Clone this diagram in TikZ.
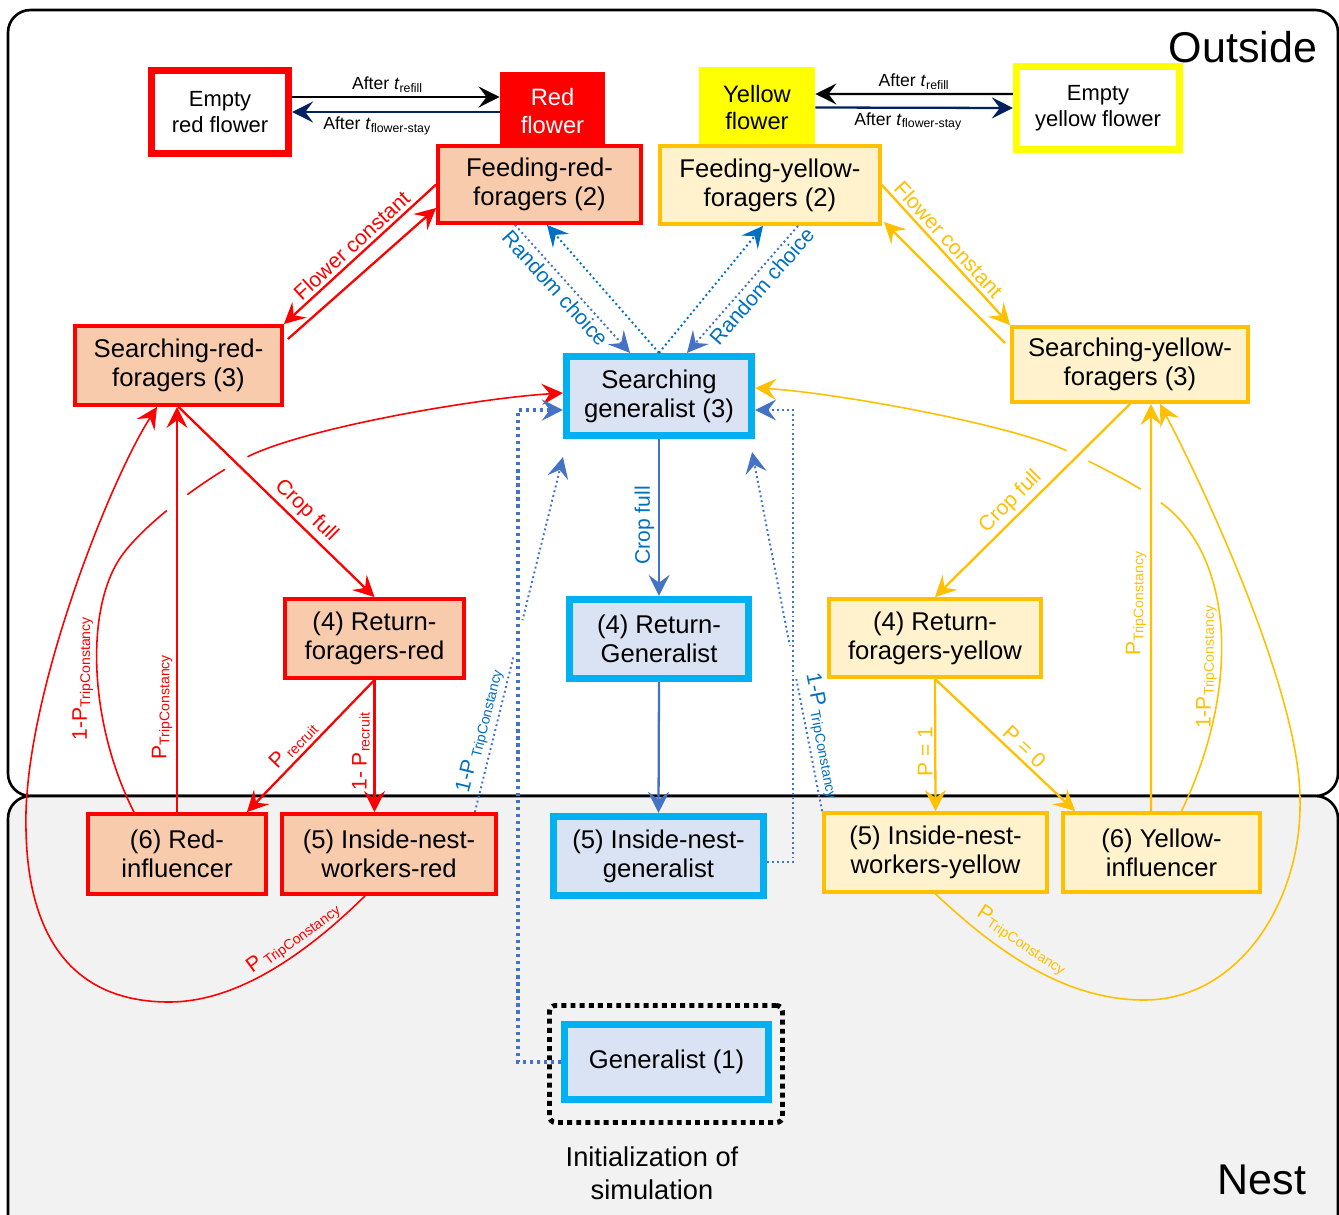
\documentclass[tikz,border=0pt]{standalone}
\usepackage{fontspec}
\setmainfont{Liberation Sans}
\usetikzlibrary{arrows.meta,calc,intersections}

\definecolor{peach}{HTML}{F8CBAD}
\definecolor{amber}{HTML}{FFC000}
\definecolor{cream}{HTML}{FFF2CC}
\definecolor{paleblue}{HTML}{DAE3F3}
\definecolor{skyline}{HTML}{00B0F0}
\definecolor{blueline}{HTML}{4472C4}
\definecolor{bluetext}{HTML}{0070C0}
\definecolor{navy}{HTML}{002060}
\definecolor{nestgrey}{HTML}{F2F2F2}
\definecolor{lemon}{HTML}{FFFF00}

\pgfdeclarelayer{back}
\pgfdeclarelayer{low}
\pgfdeclarelayer{gap}
\pgfsetlayers{back,low,gap,main}

\tikzset{%
    basebox/.style={rectangle, align=center, inner sep=0pt,
        font=\fontsize{14.6}{16.5}\selectfont},
    redbox/.style={basebox, draw=red, fill=peach, line width=2.2pt},
    yelbox/.style={basebox, draw=amber, fill=cream, line width=2.2pt},
    genbox/.style={basebox, draw=skyline, fill=paleblue, line width=3.8pt},
    emptybox/.style={basebox, fill=white, line width=3.8pt,
        font=\fontsize{12.5}{14.7}\selectfont},
    flowerbox/.style={basebox, font=\fontsize{13.5}{15.5}\selectfont},
    initbox/.style={rectangle, draw=black, line width=2.8pt,
        dash pattern=on 2.8pt off 2.4pt, rounded corners=0.12cm},
    region/.style={draw=black, line width=1.5pt, rounded corners=0.45cm},
    regionlbl/.style={font=\fontsize{24.5}{28}\selectfont},
    stealthtip/.style={-{Stealth[length=12pt, width=12pt, inset=4.5pt]}},
    blkarr/.style={stealthtip, black, line width=1.3pt},
    navyarr/.style={stealthtip, navy, line width=1.3pt},
    redarr/.style={stealthtip, red, line width=1.3pt},
    redthin/.style={stealthtip, red, line width=0.9pt},
    yelarr/.style={stealthtip, amber, line width=1.3pt},
    yelthin/.style={stealthtip, amber, line width=0.9pt},
    bluarr/.style={stealthtip, blueline, line width=1.3pt},
    bluedot/.style={stealthtip, blueline, line width=1.1pt,
        dash pattern=on 1.1pt off 1.7pt},
    bluedotthick/.style={stealthtip, blueline, line width=1.8pt,
        dash pattern=on 1.8pt off 2.2pt},
    lbl/.style={font=\fontsize{12}{14}\selectfont, sloped, inner sep=2pt},
    vlbl/.style={font=\fontsize{12}{14}\selectfont, rotate=90, inner sep=2pt},
    flowlbl/.style={font=\fontsize{10}{12}\selectfont, inner sep=2pt}
}

\begin{document}
\begin{tikzpicture}[x=0.02cm, y=-0.02cm]
	\useasboundingbox (0,0) rectangle (1339,1214);
	\begin{pgfonlayer}{back}
		\draw[region, fill=white] (8,10) rectangle (1338,796);
		\draw[region, fill=nestgrey] (8,796) rectangle (1338,1260);
	\end{pgfonlayer}
	\node[regionlbl] (outlbl) at (1243,47) {Outside};
	\node[regionlbl] (nestlbl) at (1262,1180) {Nest};

	\node[emptybox, draw=red, minimum width=2.75cm, minimum height=1.67cm] (emptyred) at (220,112) {Empty\\red flower};
	\node[flowerbox, fill=red, text=white, minimum width=2.1cm, minimum height=1.56cm] (redflower) at (552.5,111) {Red\\flower};
	\node[flowerbox, fill=lemon, minimum width=2.32cm, minimum height=1.62cm] (yellowflower) at (757,107.5) {Yellow\\flower};
	\node[emptybox, draw=lemon, minimum width=3.27cm, minimum height=1.67cm] (emptyyellow) at (1098,108) {Empty\\yellow flower};

	\node[redbox, minimum width=4.06cm, minimum height=1.54cm] (feedred) at (539.5,184.5) {Feeding-red-\\foragers (2)};
	\node[yelbox, minimum width=4.4cm, minimum height=1.56cm] (feedyellow) at (770,185) {Feeding-yellow-\\foragers (2)};
	\node[redbox, minimum width=4.14cm, minimum height=1.58cm] (searchred) at (178.5,365.5) {Searching-red-\\foragers (3)};
	\node[genbox, minimum width=3.71cm, minimum height=1.59cm] (searchgen) at (659,396) {Searching\\generalist (3)};
	\node[yelbox, minimum width=4.72cm, minimum height=1.5cm] (searchyellow) at (1130,364.5) {Searching-yellow-\\foragers (3)};
	\node[redbox, minimum width=3.58cm, minimum height=1.58cm] (returnred) at (374.5,638.5) {(4) Return-\\foragers-red};
	\node[genbox, minimum width=3.59cm, minimum height=1.59cm] (returngen) at (659,639) {(4) Return-\\Generalist};
	\node[yelbox, minimum width=4.24cm, minimum height=1.56cm] (returnyellow) at (935,638) {(4) Return-\\foragers-yellow};
	\node[redbox, minimum width=3.56cm, minimum height=1.6cm] (influred) at (177,854) {(6) Red-\\influencer};
	\node[redbox, minimum width=4.28cm, minimum height=1.6cm] (insidered) at (389,854) {(5) Inside-nest-\\workers-red};
	\node[genbox, minimum width=4.21cm, minimum height=1.59cm] (insidegen) at (658.5,856) {(5) Inside-nest-\\generalist};
	\node[yelbox, minimum width=4.46cm, minimum height=1.58cm] (insideyellow) at (935.5,852.5) {(5) Inside-nest-\\workers-yellow};
	\node[yelbox, minimum width=3.94cm, minimum height=1.58cm] (influyellow) at (1161.5,852.5) {(6) Yellow-\\influencer};
	\node[initbox, minimum width=4.66cm, minimum height=2.34cm] (initframe) at (666,1064) {};
	\node[genbox, minimum width=4.09cm, minimum height=1.51cm] (gen1) at (666.5,1062) {Generalist (1)};
	\node[font=\fontsize{15.5}{19}\selectfont, align=center] (initlbl) at (652,1173) {Initialization of\\simulation};

	% flowers
	\draw[blkarr] ([yshift=0.3cm]emptyred.east) -- ([yshift=0.28cm]redflower.west) node[flowlbl, pos=0.46, above] {After \textit{t}\textsubscript{refill}};
	\draw[navyarr] ([yshift=-0.02cm]redflower.west) -- (emptyred.east) node[flowlbl, pos=0.59, below, text=black] {After \textit{t}\textsubscript{flower-stay}};
	\draw[blkarr] ([yshift=0.28cm]emptyyellow.west) -- ([yshift=0.27cm]yellowflower.east) node[flowlbl, midway, above] {After \textit{t}\textsubscript{refill}};
	\draw[navyarr] (yellowflower.east) -- (emptyyellow.west) node[flowlbl, pos=0.47, below, text=black] {After \textit{t}\textsubscript{flower-stay}};

	\draw[redarr] (feedred.west) -- (searchred.north east) node[lbl, midway, above] {Flower constant};
	\draw[redarr] ([shift={(0.08cm,0.53cm)}]searchred.east) -- ([yshift=-0.47cm]feedred.west);
	\draw[yelarr] (feedyellow.east) -- (searchyellow.north west) node[lbl, pos=0.45, above] {Flower constant};
	\draw[yelarr] ([shift={(-0.1cm,0.43cm)}]searchyellow.west) -- ([shift={(0.04cm,0.08cm)}]feedyellow.south east);

	\draw[bluedot] ([xshift=-0.49cm]feedred.south) -- ([xshift=-0.58cm]searchgen.north) node[lbl, pos=0.43, below, text=bluetext] {Random choice};
	\draw[bluedot, bluetext] (searchgen.north) -- ([xshift=0.15cm]feedred.south);
	\draw[bluedot, bluetext] (searchgen.north) -- ([xshift=-0.14cm]feedyellow.south);
	\draw[bluedot] ([xshift=0.56cm]feedyellow.south) -- ([xshift=0.56cm]searchgen.north) node[lbl, pos=0.41, below, text=bluetext] {Random choice};

	% crop full
	\draw[redarr, name path=redcrop] (searchred.south) -- (returnred.north) node[lbl, pos=0.6, above] {Crop full};
	\draw[bluarr] (searchgen.south) -- (returngen.north) node[vlbl, pos=0.55, above, text=bluetext] {Crop full};
	\draw[yelarr, name path=yelcrop] (searchyellow.south) -- (returnyellow.north) node[lbl, pos=0.56, above] {Crop full};
	\draw[bluarr] (returngen.south) -- (insidegen.north);

	\draw[redarr] (returnred.south) -- ([xshift=-0.42cm]influred.north east) node[lbl, pos=0.56, above] {P\,\textsubscript{recruit}};
	\draw[redarr] (returnred.south) -- (returnred.south |- insidered.north) node[vlbl, pos=0.54, above] {1- P\textsubscript{recruit}};
	\draw[yelarr] (returnyellow.south) -- (insideyellow.north) node[vlbl, pos=0.55, above, inner sep=1pt] {P = 1};
	\draw[yelarr] (returnyellow.south) -- ([xshift=0.28cm]influyellow.north west) node[lbl, pos=0.58, above] {P = 0};

	% back to searching
	\draw[redarr, name path=redvert] (influred.north) -- (influred.north |- searchred.south) node[vlbl, pos=0.26, above] {P\textsubscript{TripConstancy}};
	\draw[yelarr, name path=yelvert] ([xshift=-0.21cm]influyellow.north) -- ([xshift=0.42cm]searchyellow.south) node[vlbl, pos=0.51, above] {P\textsubscript{TripConstancy}};
	\draw[redthin] ([xshift=-0.48cm]insidered.south) .. controls (310,950) and (240,1002) .. (169,1002) node[lbl, pos=0.35, above] {P\,\textsubscript{TripConstancy}}
		.. controls (75,1002) and (28,940) .. (26,830) .. controls (22,700) and (110,480) .. ([xshift=-0.43cm]searchred.south);
	\draw[yelthin] (insideyellow.south) .. controls (990,945) and (1060,1000) .. (1144,1000) node[lbl, pos=0.42, above, inner sep=4pt] {P\textsubscript{TripConstancy}}
		.. controls (1240,1000) and (1302,900) .. (1300,800) .. controls (1300,690) and (1200,480) .. ([xshift=0.6cm]searchyellow.south);
	\draw[bluedotthick, name path=genline] (gen1.west) -- ++(-43,0) |- ([yshift=-0.28cm]searchgen.west);
	\draw[bluedot, name path=ingenline] ([yshift=-0.12cm]insidegen.east) -- ++(26,0) |- ([yshift=-0.28cm]searchgen.east);

	\begin{pgfonlayer}{low}
		\draw[redthin, name path global=redcurve] ([xshift=-0.86cm]influred.north) .. controls (92,730) and (84,620) .. (117,563) node[vlbl, pos=0.5, above] {1-P\textsubscript{TripConstancy}}
			.. controls (137,528) and (207,477) .. (247,457) .. controls (307,427) and (480,398) .. ([yshift=0.06cm]searchgen.west);
		\draw[yelthin, name path global=yelcurve] ([xshift=0.4cm]influyellow.north) .. controls (1240,690) and (1235,560) .. (1164,505) node[vlbl, pos=0.4, above] {1-P\textsubscript{TripConstancy}}
			.. controls (1140,486) and (1095,464) .. (1065,450) .. controls (1005,423) and (830,392) .. ([yshift=0.16cm]searchgen.east);
		\draw[bluedot, name path global=bluered] ([xshift=-0.46cm]insidered.north east) -- ([yshift=-0.36cm]searchgen.south west) node[lbl, pos=0.22, above, text=bluetext] {1-P\,\textsubscript{TripConstancy}};
		\draw[bluedot, name path global=blueyel] (insideyellow.north west) -- ([shift={(-0.06cm,-0.26cm)}]searchgen.south east) node[lbl, pos=0.2, above, text=bluetext] {1-P\,\textsubscript{TripConstancy}};
	\end{pgfonlayer}

	\begin{pgfonlayer}{gap}
		\fill[white, name intersections={of=redcurve and redvert, name=cuta}] (cuta-1) circle (0.26cm);
		\fill[white, name intersections={of=redcurve and redcrop, name=cutb}] (cutb-1) circle (0.26cm);
		\fill[white, name intersections={of=yelcurve and yelvert, name=cutc}] (cutc-1) circle (0.24cm);
		\fill[white, name intersections={of=yelcurve and yelcrop, name=cutd}] (cutd-1) circle (0.24cm);
		\fill[white, name intersections={of=bluered and genline, name=cute}] (cute-1) circle (0.38cm);
		\fill[white, name intersections={of=blueyel and ingenline, name=cutf}] (cutf-1) circle (0.34cm);
	\end{pgfonlayer}
\end{tikzpicture}
\end{document}
